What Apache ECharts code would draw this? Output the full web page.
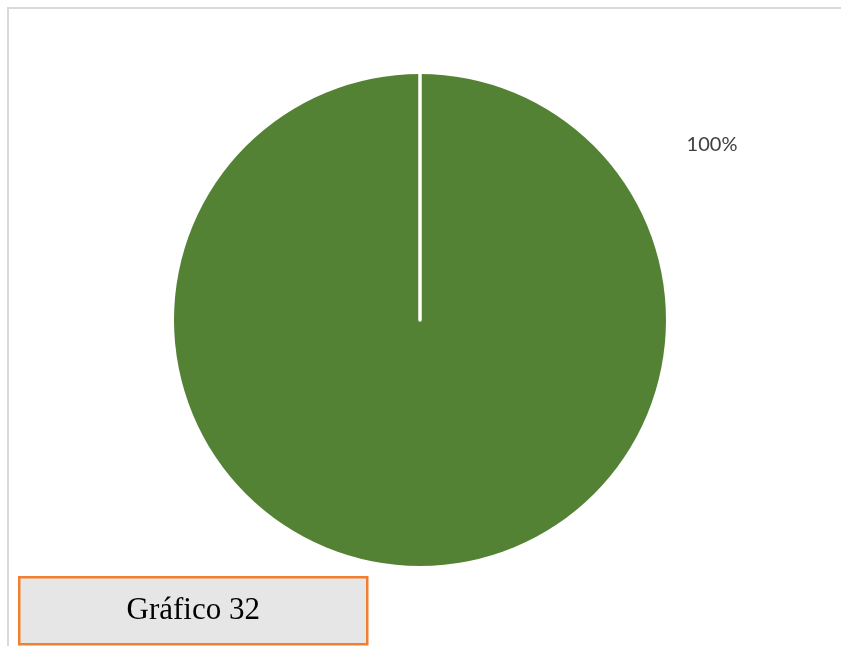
<!DOCTYPE html>
<html>
<head>
<meta charset="utf-8">
<title>Gráfico 32</title>
<script src="https://cdn.jsdelivr.net/npm/echarts@6/dist/echarts.min.js"></script>
<style>
  html, body { margin: 0; padding: 0; background: #ffffff; }
  #chart { width: 841px; height: 646px; }
</style>
</head>
<body>
<div id="chart"></div>
<script>
// Slice names and their values (one category taking the whole pie)
const categories = ['Sí'];
const values = [100];
const sliceColors = ['#548235'];
const captionText = 'Gráfico 32';

const chart = echarts.init(document.getElementById('chart'), null, { renderer: 'canvas' });

const option = {
  animation: false,
  backgroundColor: '#ffffff',
  series: [{
    type: 'pie',
    center: [420, 320],
    radius: 246,
    startAngle: 90,
    clockwise: true,
    silent: true,
    emphasis: { disabled: true },
    data: categories.map((name, i) => ({
      name: name,
      value: values[i],
      itemStyle: { color: sliceColors[i] }
    })),
    label: {
      show: true,
      formatter: '{d}%',
      fontFamily: 'Lato',
      fontSize: 20,
      color: '#404040'
    },
    labelLine: { show: false },
    // Place the percentage label up and to the right of the pie
    labelLayout: function (params) {
      const r = params.rect.width / 2;
      const cx = params.rect.x + r;
      const cy = params.rect.y + params.rect.height / 2;
      return {
        x: cx + 1.187 * r,
        y: cy - 0.715 * r,
        align: 'center',
        verticalAlign: 'middle'
      };
    }
  }]
};

chart.setOption(option);

// Divider from the centre to the top of the pie, taken from the slice layout
const layout = chart.getModel().getSeriesByIndex(0).getData().getItemLayout(0);

chart.setOption({
  graphic: [
    {
      type: 'polyline',
      silent: true,
      shape: { points: [[8, 646], [8, 8], [841, 8]] },
      style: { stroke: '#d9d9d9', lineWidth: 2, fill: null }
    },
    {
      type: 'line',
      silent: true,
      z: 10,
      shape: { x1: layout.cx, y1: layout.cy, x2: layout.cx, y2: layout.cy - layout.r - 1 },
      style: { stroke: '#ffffff', lineWidth: 3.5, lineCap: 'round' }
    },
    {
      type: 'group',
      silent: true,
      left: 18,
      top: 576,
      children: [
        {
          type: 'rect',
          shape: { x: 0, y: 0, width: 348, height: 67 },
          style: { fill: '#e7e6e6', stroke: '#f07f30', lineWidth: 2.5 }
        },
        {
          type: 'text',
          x: 174,
          y: 33.5,
          style: {
            text: captionText,
            font: '31px "Liberation Serif", "Times New Roman", serif',
            fill: '#000000',
            align: 'center',
            verticalAlign: 'middle'
          }
        }
      ]
    }
  ]
});
</script>
</body>
</html>
